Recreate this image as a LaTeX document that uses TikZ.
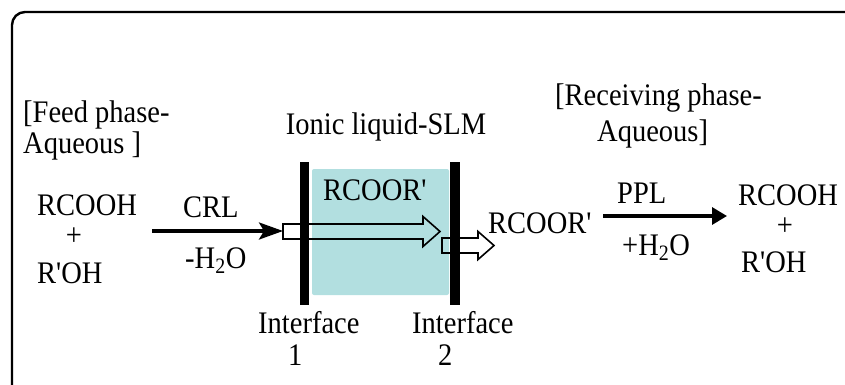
\documentclass[tikz,border=0pt]{standalone}
\usepackage{fontspec}
\setmainfont{Liberation Serif}
\usetikzlibrary{arrows.meta}
\definecolor{slmteal}{RGB}{178,223,224}
\newcommand{\tallt}[1]{\scalebox{1}[1.1]{#1}}
\begin{document}
\begin{tikzpicture}[x=1pt,y=-1pt,
  txt/.style={inner sep=0pt,font=\fontsize{28.5}{32}\selectfont},
  blockarrow/.style={draw=black,line width=1.6pt,line join=miter},
  bar/.style={fill=black},
  reaction/.style={line width=3.2pt}]
\useasboundingbox (0,0) rectangle (845,385);
\clip (0,0) rectangle (845,385);
% outer frame
\draw[line width=2.4pt,rounded corners=13pt] (12,12) rectangle (880,420);
% membrane
\fill[slmteal,rounded corners=2pt] (312,169) rectangle (449,295);
% block arrows
\draw[blockarrow] (283,224) -- (423,224) -- (423,216.5) -- (440,231.5) -- (423,246.5) -- (423,239) -- (283,239) -- cycle;
\draw[blockarrow] (442,238) -- (478,238) -- (478,231.5) -- (494,245.5) -- (478,259.5) -- (478,253) -- (442,253) -- cycle;
% interfaces
\fill[bar] (300,162) rectangle (309,305);
\fill[bar] (450,162) rectangle (460,305);
% texts
\node[txt,anchor=base west] (feed1) at (23,123) {\tallt{[Feed phase-}};
\node[txt,anchor=base west] (feed2) at (23,153) {\tallt{Aqueous ]}};
\node[txt,anchor=base] (ionic) at (386,135) {\tallt{Ionic liquid-SLM}};
\node[txt,anchor=base west] (recv1) at (555,106) {\tallt{[Receiving phase-}};
\node[txt,anchor=base west] (recv2) at (597,141) {\tallt{Aqueous]}};
\node[txt,anchor=base west] (lrcooh) at (37,215) {\tallt{RCOOH}};
\node[txt] (lplus) at (74,237) {\tallt{+}};
\node[txt,anchor=base west] (lroh) at (37,283) {\tallt{R\textquotesingle OH}};
\node[txt,anchor=base west] (crl) at (183,217) {\tallt{CRL}};
\node[txt,anchor=base west] (h2oa) at (185,268) {\tallt{-H\textsubscript{2}O}};
\node[txt,anchor=base west] (rin) at (323,200) {\tallt{RCOOR\textquotesingle}};
\node[txt,anchor=base west] (rout) at (488,233) {\tallt{RCOOR\textquotesingle}};
\node[txt,anchor=base west] (ppl) at (617,203) {\tallt{PPL}};
\node[txt,anchor=base west] (h2ob) at (622,255) {\tallt{+H\textsubscript{2}O}};
\node[txt,anchor=base west] (rrcooh) at (738,205) {\tallt{RCOOH}};
\node[txt] (rplus) at (785,227) {\tallt{+}};
\node[txt,anchor=base west] (rroh) at (741,272) {\tallt{R\textquotesingle OH}};
\node[txt,anchor=base west] (if1) at (258,333) {\tallt{Interface}};
\node[txt,anchor=base west] (one) at (288,365) {\tallt{1}};
\node[txt,anchor=base west] (if2) at (412,333) {\tallt{Interface}};
\node[txt,anchor=base west] (two) at (438,365) {\tallt{2}};
% reaction arrows
\coordinate (crlS) at (152,231);
\coordinate (crlE) at (283,231);
\draw[reaction,-{Stealth[length=24pt,width=17pt,inset=5pt]}] (crlS) -- (crlE);
\coordinate (pplS) at (603,216);
\coordinate (pplE) at (727,216);
\draw[reaction,-{Triangle[length=15pt,width=17pt]}] (pplS) -- (pplE);
\end{tikzpicture}
\end{document}
